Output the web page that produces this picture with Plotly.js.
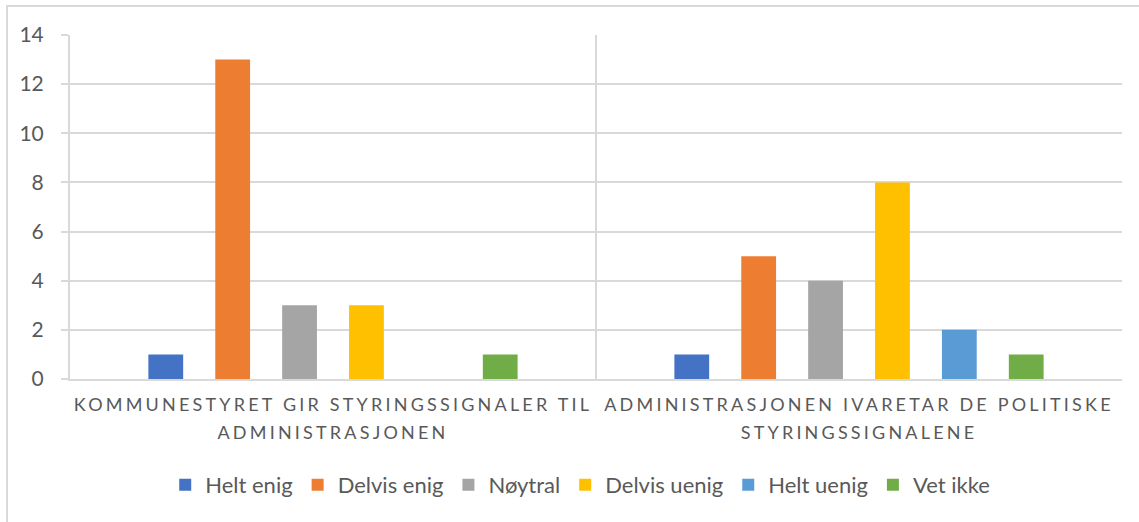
<!DOCTYPE html>
<html>
<head>
<meta charset="utf-8">
<script src="https://cdn.plot.ly/plotly-3.0.1.min.js"></script>
<style>
  html, body { margin: 0; padding: 0; width: 1139px; height: 522px; overflow: hidden; background: #fff; }
  #frame { position: absolute; left: 6px; top: 5px; width: 1200px; height: 600px; border: 2px solid #d9d9d9; box-sizing: border-box; }
  #chart { position: absolute; left: 0; top: 0; width: 1139px; height: 522px; }
  #chart .xtick text { letter-spacing: 3.2px; }
</style>
</head>
<body>
<div id="frame"></div>
<div id="chart"></div>
<script>
const categories = [
  "KOMMUNESTYRET GIR STYRINGSSIGNALER TIL<br>ADMINISTRASJONEN",
  "ADMINISTRASJONEN IVARETAR DE POLITISKE<br>STYRINGSSIGNALENE"
];
const seriesNames = ["Helt enig", "Delvis enig", "Nøytral", "Delvis uenig", "Helt uenig", "Vet ikke"];
const heltEnig = [1, 1];
const delvisEnig = [13, 5];
const noytral = [3, 4];
const delvisUenig = [3, 8];
const heltUenig = [0, 2];
const vetIkke = [1, 1];
const seriesValues = [heltEnig, delvisEnig, noytral, delvisUenig, heltUenig, vetIkke];
const colors = ["#4472C4", "#ED7D31", "#A5A5A5", "#FFC000", "#5B9BD5", "#70AD47"];
const yTicks = [0, 2, 4, 6, 8, 10, 12, 14];

const font = "Lato, 'Liberation Sans', sans-serif";
const traces = seriesNames.map((name, i) => ({
  type: "bar",
  name: name,
  x: categories,
  y: seriesValues[i],
  marker: { color: colors[i], line: { width: 0 } },
  hoverinfo: "skip"
}));

const layout = {
  width: 1139,
  height: 522,
  margin: { l: 70, r: 17, t: 35, b: 143 },
  paper_bgcolor: "rgba(0,0,0,0)",
  plot_bgcolor: "rgba(0,0,0,0)",
  barmode: "group",
  bargap: 0.237,
  bargroupgap: 0.48,
  font: { family: font, color: "#595959", size: 20 },
  xaxis: {
    type: "category",
    tickson: "boundaries",
    showgrid: true,
    gridcolor: "#d9d9d9",
    gridwidth: 2,
    showline: true,
    linecolor: "#d9d9d9",
    linewidth: 2,
    ticks: "",
    tickfont: { family: font, size: 18, color: "#595959" },
    ticklabelstandoff: 8,
    zeroline: false,
    fixedrange: true
  },
  yaxis: {
    range: [0, 14],
    tickvals: yTicks,
    ticktext: yTicks.map(String),
    showgrid: true,
    gridcolor: "#d9d9d9",
    gridwidth: 2,
    showline: true,
    linecolor: "#d9d9d9",
    linewidth: 2,
    ticks: "outside",
    ticklen: 7,
    tickwidth: 2,
    tickcolor: "#d9d9d9",
    ticklabelstandoff: 13,
    tickfont: { family: font, size: 21, color: "#595959" },
    zeroline: false,
    fixedrange: true
  },
  legend: {
    orientation: "h",
    x: 0.485,
    xanchor: "center",
    y: -0.308,
    yanchor: "middle",
    font: { family: font, size: 22, color: "#595959" },
    itemclick: false,
    itemdoubleclick: false
  },
  showlegend: true
};

function spaceLines() {
  document.querySelectorAll("#chart .xtick text").forEach(t => {
    const lines = t.querySelectorAll("tspan.line");
    lines.forEach((s, k) => { if (k > 0) s.setAttribute("dy", "1.55em"); });
  });
}

Plotly.newPlot("chart", traces, layout, { displayModeBar: false, staticPlot: true }).then(spaceLines);
</script>
</body>
</html>
